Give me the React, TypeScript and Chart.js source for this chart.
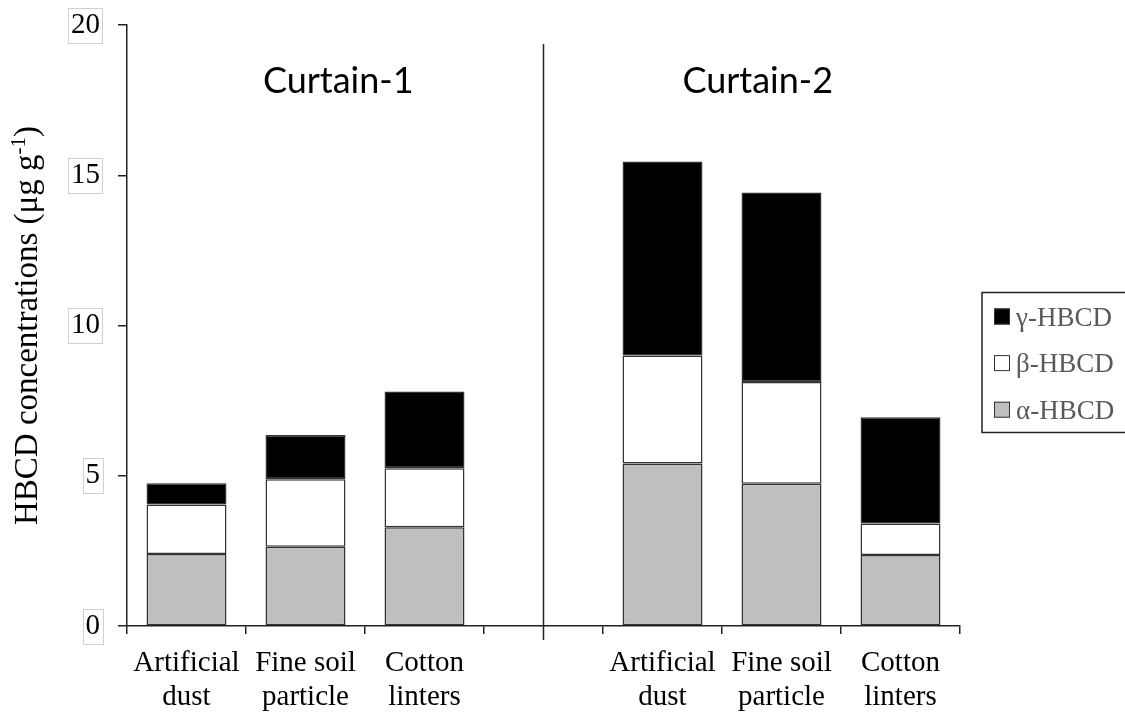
import React, { useEffect, useRef } from 'react';
import { Chart, registerables } from 'chart.js';

Chart.register(...registerables);

const categories: (string | string[])[] = [
  ['Artificial', 'dust'],
  ['Fine soil', 'particle'],
  ['Cotton', 'linters'],
  '',
  ['Artificial', 'dust'],
  ['Fine soil', 'particle'],
  ['Cotton', 'linters'],
];
const alphaValues = [2.40, 2.64, 3.29, null, 5.41, 4.73, 2.36];
const betaValues = [1.64, 2.24, 1.96, null, 3.59, 3.39, 1.05];
const gammaValues = [0.71, 1.48, 2.55, null, 6.46, 6.31, 3.54];
const seriesLabels = ['α-HBCD', 'β-HBCD', 'γ-HBCD'];
const seriesColors = ['#bfbfbf', '#ffffff', '#000000'];
const groupLabels = ['Curtain-1', 'Curtain-2'];
const dividerIndex = 3;
const yMin = 0;
const yMax = 20;
const yStep = 5;

const SERIF = '"Liberation Serif", "Times New Roman", serif';

const decorPlugin = {
  id: 'decor',
  afterDraw(chart: any) {
    const ctx = chart.ctx as CanvasRenderingContext2D;
    const { left, right, top, bottom } = chart.chartArea;
    const xs = chart.scales.x;
    const ys = chart.scales.y;
    const divX = xs.getPixelForValue(dividerIndex);
    ctx.save();

    // divider line
    ctx.strokeStyle = '#222';
    ctx.lineWidth = 1.5;
    ctx.beginPath();
    ctx.moveTo(divX, top + 19);
    ctx.lineTo(divX, bottom + 14);
    ctx.stroke();

    // group labels
    ctx.font = '36px Lato, "Liberation Sans", sans-serif';
    ctx.fillStyle = '#000';
    ctx.textAlign = 'center';
    ctx.textBaseline = 'alphabetic';
    ctx.fillText(groupLabels[0], (left + divX) / 2 + 3, top + 68);
    ctx.fillText(groupLabels[1], (divX + right) / 2 + 6, top + 68);

    // boxes around y tick labels
    ctx.font = '29px ' + SERIF;
    ctx.strokeStyle = '#d0d0d0';
    ctx.lineWidth = 1;
    const labelRight = left - 27;
    ys.ticks.forEach((t: any, i: number) => {
      const py = ys.getPixelForTick(i);
      const w = ctx.measureText(String(t.label)).width;
      ctx.strokeRect(Math.round(labelRight - w - 3) + 0.5, Math.round(py - 17.5) + 0.5, Math.round(w + 5), 35);
    });

    // y axis title with superscript
    const cy = (top + bottom) / 2;
    const p1 = 'HBCD concentrations (μg g';
    const p2 = '-1';
    const p3 = ')';
    const mainFont = '33px ' + SERIF;
    const supFont = '21px ' + SERIF;
    ctx.font = mainFont;
    const w1 = ctx.measureText(p1).width;
    const w3 = ctx.measureText(p3).width;
    ctx.font = supFont;
    const w2 = ctx.measureText(p2).width;
    const total = w1 + w2 + w3;
    ctx.translate(37, cy);
    ctx.rotate(-Math.PI / 2);
    ctx.textAlign = 'left';
    ctx.fillStyle = '#000';
    let cx = -total / 2;
    ctx.font = mainFont;
    ctx.fillText(p1, cx, 0);
    cx += w1;
    ctx.font = supFont;
    ctx.fillText(p2, cx, -12);
    cx += w2;
    ctx.font = mainFont;
    ctx.fillText(p3, cx, 0);
    ctx.setTransform(1, 0, 0, 1, 0, 0);

    // legend
    const lx = 982;
    const ly = 292.5;
    ctx.strokeStyle = '#222';
    ctx.lineWidth = 1.5;
    ctx.strokeRect(lx, ly, 160, 140);
    const ds = chart.data.datasets;
    const order = [2, 1, 0];
    ctx.font = '27px ' + SERIF;
    ctx.textAlign = 'left';
    ctx.textBaseline = 'alphabetic';
    order.forEach((di, k) => {
      const rowC = 316.5 + k * 46.6;
      ctx.fillStyle = ds[di].backgroundColor;
      ctx.fillRect(994, rowC - 8, 16, 16);
      ctx.strokeStyle = '#333';
      ctx.lineWidth = 1;
      ctx.strokeRect(994.5, rowC - 7.5, 15, 15);
      ctx.fillStyle = '#595959';
      ctx.fillText(ds[di].label, 1016, rowC + 9);
    });

    ctx.restore();
  },
};

export default function App() {
  const ref = useRef<HTMLCanvasElement>(null);
  useEffect(() => {
    if (!ref.current) return;
    const values = [alphaValues, betaValues, gammaValues];
    const chart = new Chart(ref.current, {
      type: 'bar',
      data: {
        labels: categories,
        datasets: values.map((v, i) => ({
          label: seriesLabels[i],
          data: v,
          backgroundColor: seriesColors[i],
          borderColor: '#333',
          borderWidth: 1.5,
          borderSkipped: false,
          barPercentage: 1,
          categoryPercentage: 0.672,
          stack: 's',
        })),
      },
      options: {
        responsive: false,
        animation: false,
        devicePixelRatio: 1,
        layout: { padding: { top: 25, right: 165, bottom: 0, left: 0 } },
        plugins: {
          legend: { display: false },
          tooltip: { enabled: false },
        },
        scales: {
          x: {
            stacked: true,
            offset: true,
            afterFit: (s: any) => { s.height = 91; },
            grid: {
              offset: true,
              drawOnChartArea: false,
              drawTicks: true,
              tickLength: 8,
              color: '#222',
              lineWidth: 1.5,
            },
            border: { color: '#222', width: 1.5 },
            ticks: {
              color: '#000',
              padding: 12,
              maxRotation: 0,
              autoSkip: false,
              font: { family: SERIF, size: 29, lineHeight: 1.17 },
            },
          },
          y: {
            stacked: true,
            min: yMin,
            max: yMax,
            afterFit: (s: any) => { s.width = 127; s.paddingTop = 0; s.paddingBottom = 0; },
            grid: {
              drawOnChartArea: false,
              drawTicks: true,
              tickLength: 9,
              color: '#222',
              lineWidth: 1.5,
            },
            border: { color: '#222', width: 1.5 },
            ticks: {
              stepSize: yStep,
              color: '#000',
              padding: 18,
              font: { family: SERIF, size: 29 },
            },
          },
        },
      },
      plugins: [decorPlugin],
    });
    return () => chart.destroy();
  }, []);
  return (
    <div style={{ position: 'absolute', left: 0, top: 0, width: 1125, height: 717, background: '#fff' }}>
      <canvas ref={ref} width={1125} height={717} />
    </div>
  );
}
